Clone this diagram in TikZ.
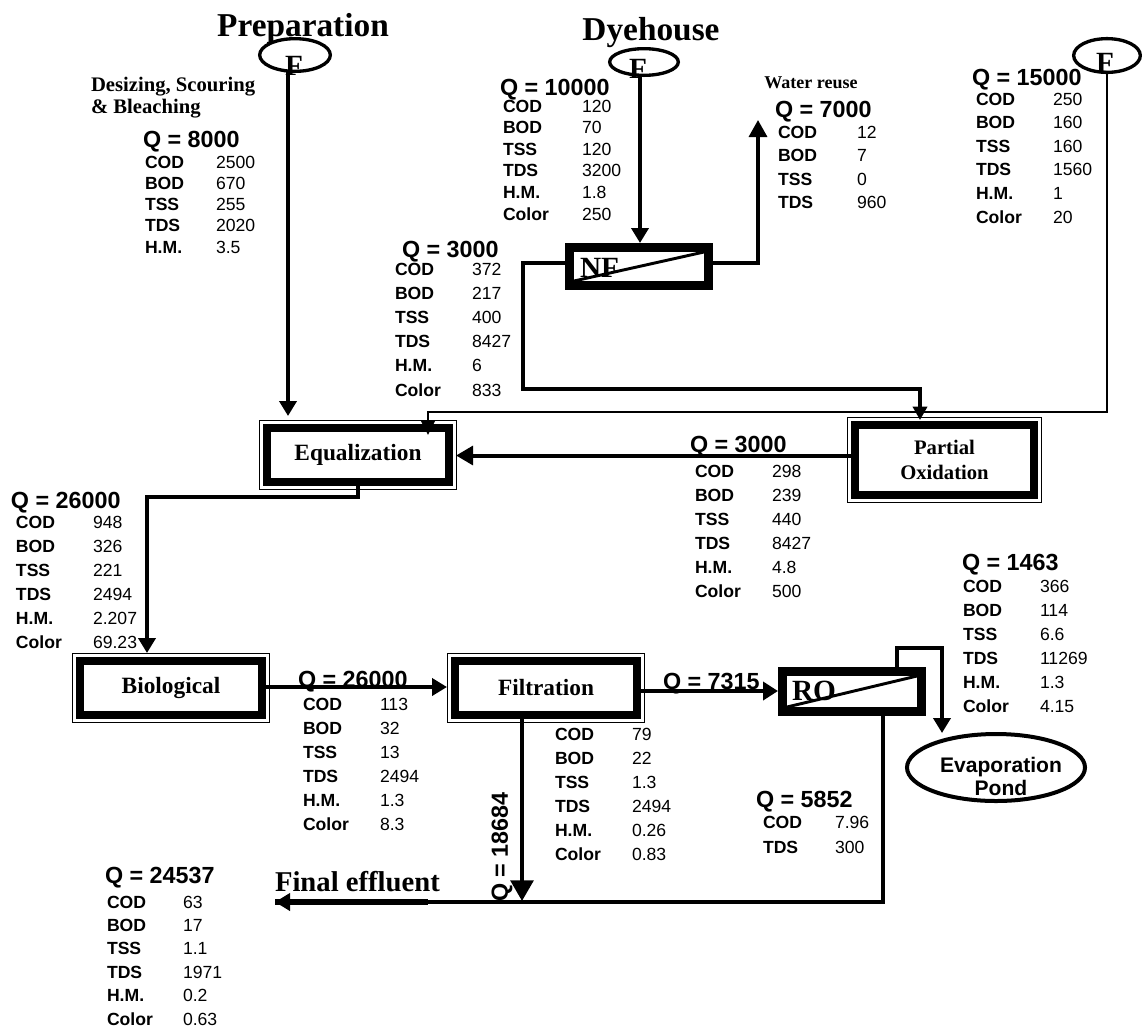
\documentclass[tikz,border=0pt]{standalone}
\usepackage{fontspec}
\setmainfont{Liberation Serif}
\setsansfont{Liberation Sans}
\usetikzlibrary{arrows.meta,shapes.geometric,calc}
\tikzset{
 every node/.style={inner sep=0pt, outer sep=0pt},
 lab/.style={font=\sffamily\bfseries\fontsize{13.2}{14}\selectfont, anchor=base west},
 val/.style={font=\sffamily\fontsize{13.2}{14}\selectfont, anchor=base west},
 qh/.style={font=\sffamily\bfseries\fontsize{17.5}{18}\selectfont, anchor=base west},
 ttl/.style={font=\bfseries\fontsize{25}{26}\selectfont, anchor=base},
 serifb/.style={font=\bfseries\fontsize{15.5}{16.5}\selectfont},
 procbox/.style={draw, line width=6pt, outer sep=3pt, minimum width=136.5pt, minimum height=40.5pt, font=\bfseries\fontsize{17.5}{20}\selectfont, align=center},
 membox/.style={draw, line width=6.75pt, outer sep=3.375pt, minimum width=104.25pt, minimum height=28.5pt},
 fell/.style={draw, ellipse, line width=2.5pt},
 ftxt/.style={font=\bfseries\fontsize{22}{22}\selectfont, anchor=base},
 pipe/.style={line width=3pt},
 arr/.style={pipe, -{Triangle[width=12.75pt,length=11.25pt]}},
 nfpipe/.style={line width=2.5pt},
 thinpipe/.style={line width=2pt},
}
\newcommand\rowtab[6]{\foreach \rlabel/\rvalue [count=\i] in {#6} {\node[lab] (#1l\i) at (#2,{#4+(\i-1)*#5}) {\rlabel}; \node[val] (#1v\i) at (#3,{#4+(\i-1)*#5}) {\rvalue};}}
\newcommand\qtab[9]{\node[qh] (#1q) at (#2,#3) {#4}; \rowtab{#1}{#5}{#6}{#7}{#8}{#9}}
\begin{document}
\begin{tikzpicture}[x=0.75pt,y=-0.75pt]
\useasboundingbox (0,0) rectangle (1142,1029);

% titles
\node[ttl] (tprep) at (303,36) {Preparation};
\node[ttl] (tdye) at (651,40) {Dyehouse};
\node[serifb, anchor=north west, align=left] (tdes) at (91,77) {Desizing, Scouring\\\& Bleaching};
\node[font=\bfseries\fontsize{13.5}{14}\selectfont, anchor=base] (twr) at (811,88) {Water reuse};
\node[font=\bfseries\fontsize{21.5}{22}\selectfont, anchor=base west] (tfe) at (275,891) {Final effluent};

% feed ellipses
\node[fell, minimum width=53pt, minimum height=24.5pt] (F1) at (295,55) {};
\node[ftxt] (F1t) at (294,75) {F};
\node[fell, minimum width=51.5pt, minimum height=20pt] (F2) at (644,62) {};
\node[ftxt] (F2t) at (638,78) {F};
\node[fell, minimum width=50pt, minimum height=25.3pt] (F3) at (1107,55.5) {};
\node[ftxt] (F3t) at (1105,72) {F};

% process boxes
\node[procbox] (eq) at (358,455) {Equalization};
\node[procbox, minimum width=134.25pt, minimum height=52.5pt, font=\bfseries\fontsize{15.5}{18.75}\selectfont] (po) at (944.5,460) {Partial\\Oxidation};
\node[procbox] (bio) at (171,688) {Biological};
\node[procbox] (filt) at (546,688) {Filtration};
\foreach \n in {eq,po,bio,filt}
  \draw[line width=1.1pt] ($(\n.north west)+(-3.5,-3.5)$) rectangle ($(\n.south east)+(3.5,3.5)$);

% membranes
\node[membox] (nf) at (639,266.5) {};
\node[membox, minimum height=30pt] (ro) at (852,691.5) {};
\draw[line width=2.2pt] ($(nf.south west)+(9,-9)$) -- ($(nf.north east)+(-9,9)$);
\draw[line width=2.2pt] ($(ro.south west)+(9,-9)$) -- ($(ro.north east)+(-9,9)$);
\node[ftxt, anchor=base west] (nft) at (580,277) {NF};
\node[ftxt, anchor=base west] (rot) at (792,700) {RO};

% evaporation pond
\node[draw, ellipse, line width=3pt, minimum width=133.5pt, minimum height=50.25pt] (ev) at (996,767.5) {};
\node[font=\sffamily\bfseries\fontsize{15.8}{17.25}\selectfont, align=center] (evt) at (1001,776) {Evaporation\\Pond};

% waypoints
\coordinate (pin) at (288,416);
\coordinate (nfin) at (640,243);
\coordinate (nfr) at (713,263);
\coordinate (wr) at (758,120);
\coordinate (nfl) at (565,263);
\coordinate (rj) at (523,389);
\coordinate (poin) at (920,420);
\coordinate (f3y) at (1107,412);
\coordinate (eqin2) at (428,435);
\coordinate (poout) at (847,455.5);
\coordinate (eqin3) at (456,455.5);
\coordinate (bin) at (147,653);
\coordinate (eqo) at (358,497);
\coordinate (filtin) at (447,687);
\coordinate (fro) at (646,691);
\coordinate (roin) at (778,691);
\coordinate (rotop) at (897,667);
\coordinate (evtop) at (942,648);
\coordinate (evin) at (942,733);
\coordinate (rob) at (883,716);
\coordinate (fe) at (275,902);
\coordinate (fethick) at (428,902);
\coordinate (ffin) at (522,901);

% connectors
\draw[arr] (F1.south -| pin) -- (pin);
\draw[arr] (F2.south -| nfin) -- (nfin);
\draw[nfpipe, -{Triangle[width=13.5pt,length=12.75pt]}] (nf.east |- nfr) -| (wr);
\draw[nfpipe, -{Triangle[width=10.5pt,length=10pt]}] (nf.west |- nfl) -| (rj) -| (poin);
\draw[thinpipe, -{Triangle[width=10.5pt,length=11pt]}] (F3.south) -- (f3y) -| (eqin2);
\draw[pipe, -{Triangle[width=14pt,length=12.75pt]}] (po.west |- poout) -- (eqin3);
\draw[arr] (eq.south) -- (eqo) -| (bin);
\draw[arr] (bio.east |- filtin) -- (filtin);
\draw[arr, -{Triangle[width=13.5pt,length=11.25pt]}] (filt.east |- fro) -- (roin);
\draw[arr] (ro.north -| rotop) |- (evtop) -- (evin);
\draw[arr] (ro.south -| rob) |- (fe);
\draw[line width=4pt] (fe) -- (fethick);
\draw[pipe, -{Triangle[width=17pt,length=15.5pt]}] (filt.south -| ffin) -- (ffin);

% flow labels
\node[qh] (q7315) at (663,689) {Q = 7315};
\node[qh, anchor=center, rotate=90] (q18684) at (502,847) {Q = 18684};

% tables
\qtab{a}{143}{147}{Q = 8000}{145}{216}{168}{21.3}{COD/2500,BOD/670,TSS/255,TDS/2020,H.M./3.5}
\qtab{b}{500}{95}{Q = 10000}{503}{582}{112}{21.6}{COD/120,BOD/70,TSS/120,TDS/3200,H.M./1.8,Color/250}
\qtab{c}{775}{117}{Q = 7000}{778}{857}{138}{23.5}{COD/12,BOD/7,TSS/0,TDS/960}
\qtab{d}{972}{85}{Q = 15000}{976}{1053}{105}{23.6}{COD/250,BOD/160,TSS/160,TDS/1560,H.M./1,Color/20}
\qtab{e}{402}{257}{Q = 3000}{395}{472}{275}{24.2}{COD/372,BOD/217,TSS/400,TDS/8427,H.M./6,Color/833}
\qtab{f}{690}{452}{Q = 3000}{695}{772}{477}{24}{COD/298,BOD/239,TSS/440,TDS/8427,H.M./4.8,Color/500}
\qtab{g}{11}{508}{Q = 26000}{16}{93}{528}{24}{COD/948,BOD/326,TSS/221,TDS/2494,H.M./2.207,Color/69.23}
\qtab{h}{298}{687}{Q = 26000}{303}{380}{710}{24}{COD/113,BOD/32,TSS/13,TDS/2494,H.M./1.3,Color/8.3}
\rowtab{i}{555}{632}{740}{24}{COD/79,BOD/22,TSS/1.3,TDS/2494,H.M./0.26,Color/0.83}
\qtab{j}{962}{570}{Q = 1463}{963}{1040}{592}{24}{COD/366,BOD/114,TSS/6.6,TDS/11269,H.M./1.3,Color/4.15}
\qtab{k}{756}{807}{Q = 5852}{763}{835}{828}{25}{COD/7.96,TDS/300}
\qtab{l}{105}{883}{Q = 24537}{107}{183}{908}{23.4}{COD/63,BOD/17,TSS/1.1,TDS/1971,H.M./0.2,Color/0.63}
\end{tikzpicture}
\end{document}
